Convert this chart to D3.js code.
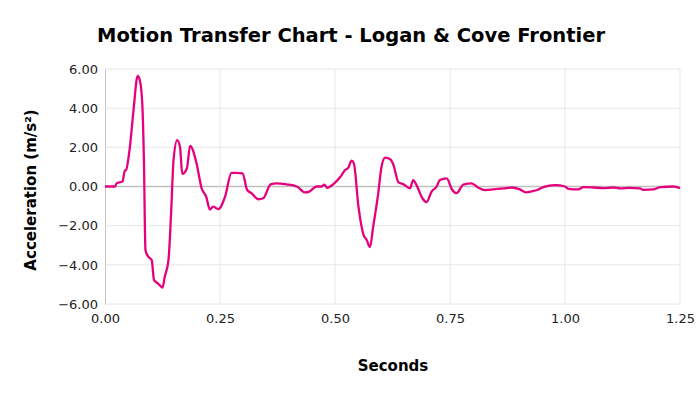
<!DOCTYPE html>
<html>
<head>
<meta charset="utf-8">
<script src="https://cdn.jsdelivr.net/npm/d3@7"></script>
<style>
	body { margin: 0; background: #fff; }
	text { font-family: "DejaVu Sans", Verdana, sans-serif; }
</style>
</head>
<body>
<svg id="chart" width="700" height="394"></svg>
<script>
// Acceleration trace
var seconds = [0, 0.022, 0.025, 0.038, 0.043, 0.046, 0.054, 0.062, 0.071, 0.076, 0.081, 0.0846, 0.088, 0.094,
	0.1015, 0.1065, 0.116, 0.125, 0.130, 0.138, 0.144, 0.149, 0.157, 0.163, 0.168, 0.178, 0.185, 0.199,
	0.210, 0.220, 0.228, 0.235, 0.2464, 0.261, 0.275, 0.286, 0.299, 0.309, 0.319, 0.333, 0.344, 0.36,
	0.373, 0.395, 0.417, 0.435, 0.444, 0.46, 0.471, 0.477, 0.483, 0.496, 0.511, 0.522, 0.529, 0.536,
	0.541, 0.551, 0.562, 0.569, 0.576, 0.583, 0.594, 0.601, 0.609, 0.62, 0.627, 0.638, 0.649, 0.663,
	0.67, 0.677, 0.69, 0.699, 0.71, 0.721, 0.728, 0.743, 0.754, 0.764, 0.779, 0.797, 0.811, 0.826,
	0.844, 0.866, 0.884, 0.902, 0.915, 0.928, 0.94, 0.953, 0.978, 1.0, 1.007, 1.029, 1.04, 1.062,
	1.083, 1.105, 1.12, 1.141, 1.163, 1.17, 1.192, 1.207, 1.236, 1.25];
var accel = [0, 0, 0.16, 0.25, 0.8, 0.85, 2.0, 3.9, 5.65, 5.4, 4.25, 1.35, -3.25, -3.58,
	-3.75, -4.77, -4.97, -5.16, -4.6, -3.75, -1.2, 1.35, 2.37, 2.03, 0.64, 0.93, 2.07, 1.18,
	-0.09, -0.52, -1.18, -1.03, -1.16, -0.52, 0.7, 0.7, 0.67, -0.18, -0.35, -0.65, -0.6, 0.11,
	0.16, 0.11, 0, -0.3, -0.26, 0, 0, 0.1, -0.07, 0.11, 0.47, 0.84, 0.96, 1.32,
	1.18, -1.03, -2.47, -2.73, -3.1, -2.05, -0.35, 1.0, 1.47, 1.39, 1.1, 0.21, 0.11, -0.09,
	0.33, 0.08, -0.6, -0.8, -0.26, 0, 0.33, 0.42, -0.14, -0.34, 0.1, 0.16, -0.05, -0.18,
	-0.15, -0.1, -0.05, -0.15, -0.3, -0.25, -0.18, -0.03, 0.07, 0, -0.12, -0.15, -0.03, -0.05,
	-0.08, -0.05, -0.1, -0.07, -0.1, -0.17, -0.15, -0.03, 0, -0.08];

var xTicks = [0, 0.25, 0.5, 0.75, 1.0, 1.25];
var yTicks = [-6, -4, -2, 0, 2, 4, 6];

var title = 'Motion Transfer Chart - Logan & Cove Frontier';
var xTitle = 'Seconds';
var yTitle = 'Acceleration (m/s\u00B2)';

var svg = d3.select('#chart');
var margin = {top: 69, right: 20, bottom: 90, left: 105};
var width = 700 - margin.left - margin.right,
	height = 394 - margin.top - margin.bottom;

var x = d3.scaleLinear().domain([0, 1.25]).range([0, width]);
var y = d3.scaleLinear().domain([-6, 6]).range([height, 0]);

var g = svg.append('g').attr('transform', 'translate(' + margin.left + ',' + margin.top + ')');

// grid
g.append('g').selectAll('line').data(yTicks).enter().append('line')
	.attr('x1', 0).attr('x2', width)
	.attr('y1', function(d){ return y(d); }).attr('y2', function(d){ return y(d); })
	.attr('stroke', function(d){ return d == 0 ? '#bfbfbf' : '#e6e6e6'; })
	.attr('stroke-width', function(d){ return d == 0 ? 1.5 : 1; });

g.append('g').selectAll('line').data(xTicks.slice(1)).enter().append('line')
	.attr('x1', function(d){ return x(d); }).attr('x2', function(d){ return x(d); })
	.attr('y1', 0).attr('y2', height)
	.attr('stroke', '#e6e6e6');

// axes
var xAxis = g.append('g').attr('transform', 'translate(0,' + height + ')')
	.call(d3.axisBottom(x).tickValues(xTicks).tickFormat(d3.format('.2f')).tickSize(0).tickPadding(10));
var yAxis = g.append('g')
	.call(d3.axisLeft(y).tickValues(yTicks).tickFormat(d3.format('.2f')).tickSize(0).tickPadding(7));

xAxis.select('.domain').remove();
yAxis.select('.domain').attr('stroke', '#c8c8c8');
[xAxis, yAxis].forEach(function(a){
	a.selectAll('text').attr('font-size', 13).attr('fill', '#222')
		.style('font-family', '"DejaVu Sans", Verdana, sans-serif');
});

// the line
var pts = seconds.map(function(s, i){ return [s, accel[i]]; });
var line = d3.line()
	.x(function(d){ return x(d[0]); })
	.y(function(d){ return y(d[1]); })
	.curve(d3.curveMonotoneX);

g.append('path').datum(pts)
	.attr('d', line)
	.attr('fill', 'none')
	.attr('stroke', '#E6007E')
	.attr('stroke-width', 2.3)
	.attr('stroke-linejoin', 'round');

// titles
svg.append('text').text(title)
	.attr('x', 351).attr('y', 42)
	.attr('text-anchor', 'middle')
	.attr('font-size', 19.5).attr('font-weight', 'bold');

svg.append('text').text(xTitle)
	.attr('x', 393).attr('y', 371)
	.attr('text-anchor', 'middle')
	.attr('font-size', 15).attr('font-weight', 'bold');

svg.append('text').text(yTitle)
	.attr('transform', 'translate(36,190) rotate(-90)')
	.attr('text-anchor', 'middle')
	.attr('font-size', 15).attr('font-weight', 'bold');
</script>
</body>
</html>
